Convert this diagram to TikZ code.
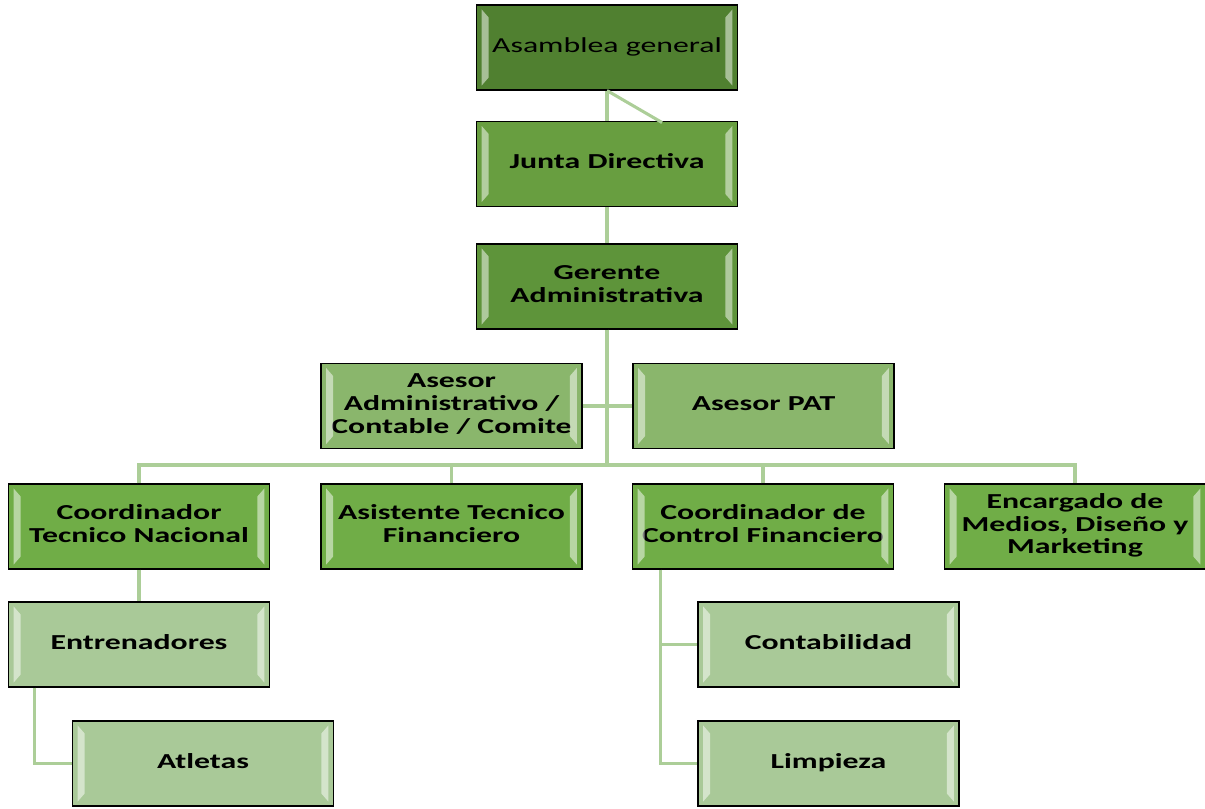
\documentclass[tikz,border=0pt]{standalone}
\usepackage{fontspec}
\setmainfont{Carlito}
\usepackage{graphicx}
\usetikzlibrary{positioning,calc}

\definecolor{topgrn}{RGB}{80,128,48}
\definecolor{juntagrn}{RGB}{104,158,64}
\definecolor{gergrn}{RGB}{94,148,58}
\definecolor{asegrn}{RGB}{138,182,108}
\definecolor{midgrn}{RGB}{112,173,71}
\definecolor{lightgrn}{RGB}{169,201,152}
\definecolor{linkgrn}{RGB}{172,206,152}

% wide label, stretched like the original
\newcommand{\wlbl}[1]{\scalebox{1.49}[1]{\begin{tabular}{@{}c@{}}#1\end{tabular}}}

\tikzset{
  orgbox/.style={draw=black, line width=1.1pt, minimum width=196pt, minimum height=63.5pt,
    inner sep=0pt, font=\fontsize{16}{17}\selectfont\bfseries},
  bevel/.style={fill=white, fill opacity=0.5},
  link/.style={draw=linkgrn, line width=2.3pt},
}

\begin{document}
\begin{tikzpicture}[x=0.75pt,y=0.75pt,yscale=-1,xscale=1]
\useasboundingbox (0,0) rectangle (1205,808);

% Top of the chart
\node [orgbox, fill=topgrn, font=\fontsize{16}{17}\selectfont] (asamblea) at (607,47.5) {\wlbl{Asamblea general}};
\node [orgbox, fill=juntagrn] (junta) at (607,164) {\wlbl{Junta Directiva}};
\node [orgbox, fill=gergrn] (gerente) at (607,286.5) {\wlbl{Gerente\\Administrativa}};

% Advisers
\node [orgbox, fill=asegrn] (asesoradm) at (451.5,406) {\wlbl{Asesor\\Administrativo /\\Contable / Comite}};
\node [orgbox, fill=asegrn] (asesorpat) at (763.5,406) {\wlbl{Asesor PAT}};

% Second level
\node [orgbox, fill=midgrn] (coordtec) at (139,526.5) {\wlbl{Coordinador\\Tecnico Nacional}};
\node [orgbox, fill=midgrn] (asistente) at (451.5,526.5) {\wlbl{Asistente Tecnico\\Financiero}};
\node [orgbox, fill=midgrn] (coordctl) at (763,526.5) {\wlbl{Coordinador de\\Control Financiero}};
\node [orgbox, fill=midgrn] (encargado) at (1075,526.5) {\wlbl{Encargado de\\Medios, Diseño y\\Marketing}};

% Third level
\node [orgbox, fill=lightgrn] (entren) at (139,644.5) {\wlbl{Entrenadores}};
\node [orgbox, fill=lightgrn] (atletas) at (203,763.5) {\wlbl{Atletas}};
\node [orgbox, fill=lightgrn] (contab) at (828.5,644.5) {\wlbl{Contabilidad}};
\node [orgbox, fill=lightgrn] (limpieza) at (828.5,763.5) {\wlbl{Limpieza}};

% Bevels on the box sides
\foreach \n in {asamblea,junta,gerente,asesoradm,asesorpat,coordtec,asistente,coordctl,encargado,entren,atletas,contab,limpieza}{
  \fill [bevel] ([shift={(6,5)}]\n.north west) -- ([shift={(13,13)}]\n.north west) -- ([shift={(13,-13)}]\n.south west) -- ([shift={(6,-5)}]\n.south west) -- cycle;
  \fill [bevel] ([shift={(-6,5)}]\n.north east) -- ([shift={(-13,13)}]\n.north east) -- ([shift={(-13,-13)}]\n.south east) -- ([shift={(-6,-5)}]\n.south east) -- cycle;
}

% Connectors
\coordinate (jdiag) at (662,122.5);
\coordinate (bus) at (607,465);
\draw [link] (asamblea.south) -- (junta.north);
\draw [link] (asamblea.south) -- (jdiag);
\draw [link] (junta.south) -- (gerente.north);
\draw [link] (gerente.south) -- (bus);
\draw [link] (asesoradm.east) -- (asesorpat.west);
\draw [link] (coordtec.north) |- (bus) -| (encargado.north);
\draw [link] (asistente.north) -- (asistente.north |- bus);
\draw [link] (coordctl.north) -- (coordctl.north |- bus);
\draw [link] (coordtec.south) -- (entren.north);
\coordinate (entdrop) at ([xshift=20.25pt]entren.south west);
\draw [link] (entdrop) |- (atletas.west);
\coordinate (ctldrop) at ([xshift=21.75pt]coordctl.south west);
\draw [link] (ctldrop) |- (limpieza.west);
\draw [link] (contab.west) -- (contab.west -| ctldrop);

\end{tikzpicture}
\end{document}
